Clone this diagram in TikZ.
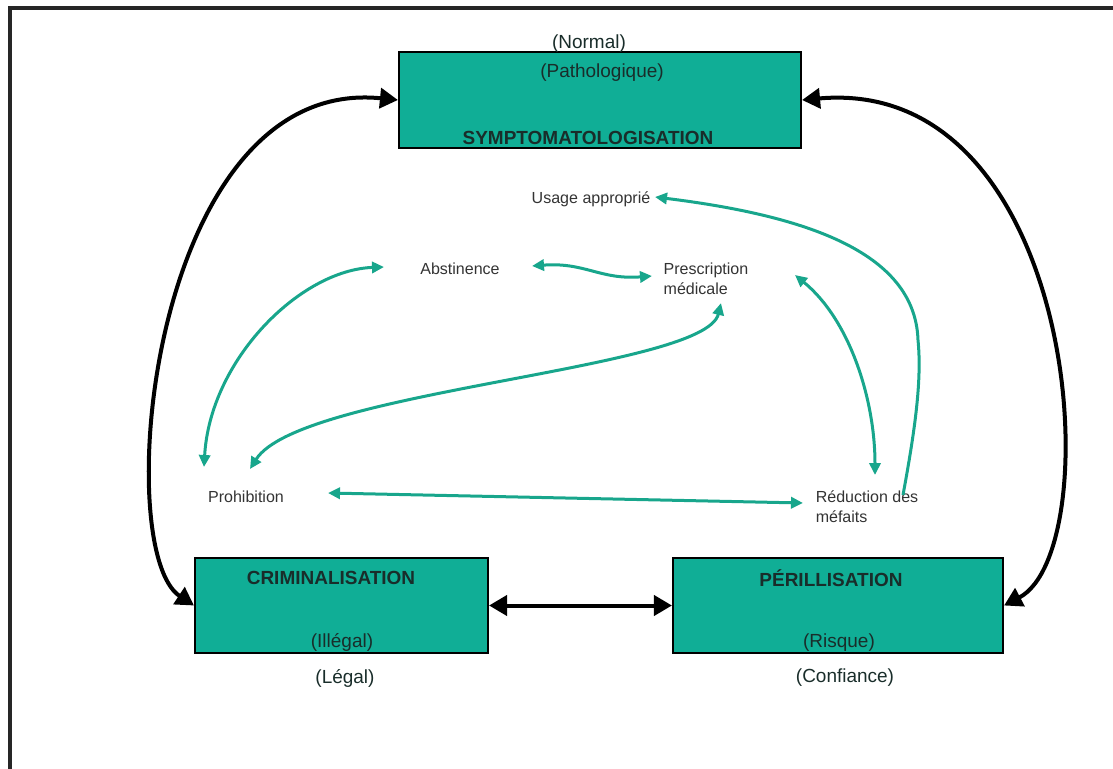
\documentclass[tikz,border=0pt]{standalone}
\usepackage{fontspec}
\setmainfont{Liberation Sans}
\usetikzlibrary{arrows.meta,positioning,calc}
\definecolor{vert}{RGB}{16,174,150}
\definecolor{vertfleche}{RGB}{24,166,140}
\definecolor{encre}{RGB}{25,45,42}

\begin{document}
\begin{tikzpicture}[x=0.025cm, y=-0.025cm,
  pole/.style={draw=black, line width=0.05cm, fill=vert, inner sep=0pt},
  titre/.style={font=\fontsize{13.5}{16}\selectfont\bfseries, text=encre, inner sep=0pt},
  note/.style={font=\fontsize{13.5}{16}\selectfont, text=encre, inner sep=0pt},
  notion/.style={font=\fontsize{11.4}{14.2}\selectfont, text=black!80, inner sep=0pt, align=left},
  fort/.style={line width=0.1cm, >={Triangle[length=0.45cm,width=0.5cm]}, <->},
  flux/.style={draw=vertfleche, line width=0.075cm, >={Triangle[length=0.3cm,width=0.28cm]}}]
 \useasboundingbox (0,0) rectangle (1113,769);
 \clip (0,0) rectangle (1113,769);
 \draw[line width=0.075cm, black!85] (10,8) rectangle (1200,820);

 % les trois poles
 \node[pole, minimum width=10.05cm, minimum height=2.4cm] (sympt) at (600,100) {};
 \node[pole, minimum width=7.325cm, minimum height=2.375cm] (crim) at (341.5,605.5) {};
 \node[pole, minimum width=8.25cm, minimum height=2.375cm] (peri) at (838,605.5) {};

 \node[note] (normal) at (589,44) {(Normal)};
 \node[note] (patho) at (602,73) {(Pathologique)};
 \node[titre] (symptlbl) at (588,138) {SYMPTOMATOLOGISATION};
 \node[titre] (crimlbl) at (331,578) {CRIMINALISATION};
 \node[note] (illegal) at (342,642) {(Illégal)};
 \node[note] (legal) at (345,678) {(Légal)};
 \node[titre] (perilbl) at (831,578) {PÉRILLISATION};
 \node[note] (risque) at (839,643) {(Risque)};
 \node[note] (confiance) at (845,678) {(Confiance)};

 % les notions
 \node[notion] (usage) at (591,199) {Usage approprié};
 \node[notion] (abst) at (460,269) {Abstinence};
 \node[notion] (presc) at (706,279) {Prescription\\médicale};
 \node[notion] (prohib) at (246,497) {Prohibition};
 \node[notion] (reduc) at (867,507) {Réduction des\\méfaits};

 \draw[fort] (sympt.west) .. controls (150,75) and (110,550) .. (crim.west);
 \draw[fort] (sympt.east) .. controls (1080,75) and (1110,550) .. (peri.east);
 \draw[fort] (crim.east) -- (peri.west);

 \draw[flux, <->] ($(abst)+(-76,-2)$) .. controls (300,270) and (210,360) .. ($(prohib)+(-42,-30)$);
 \draw[flux, <->] ($(presc)+(15,24)$) .. controls (705,370) and (300,390) .. ($(prohib)+(4,-28)$);
 \draw[flux, <->] ($(abst)+(72,-3)$) .. controls (585,262) and (600,280) .. ($(presc)+(-54,-3)$);
 \draw[flux, ->] ($(reduc)+(36,-12)$) .. controls (915,430) and (922,380) .. (918,340)
   .. controls (915,250) and (800,215) .. ($(usage)+(64,-2)$);
 \draw[flux, <->] ($(presc)+(89,-4)$) .. controls (850,320) and (875,400) .. ($(reduc)+(8,-32)$);
 \draw[flux, <->] ($(prohib)+(82,-4)$) -- ($(reduc)+(-64,-4)$);
\end{tikzpicture}
\end{document}
